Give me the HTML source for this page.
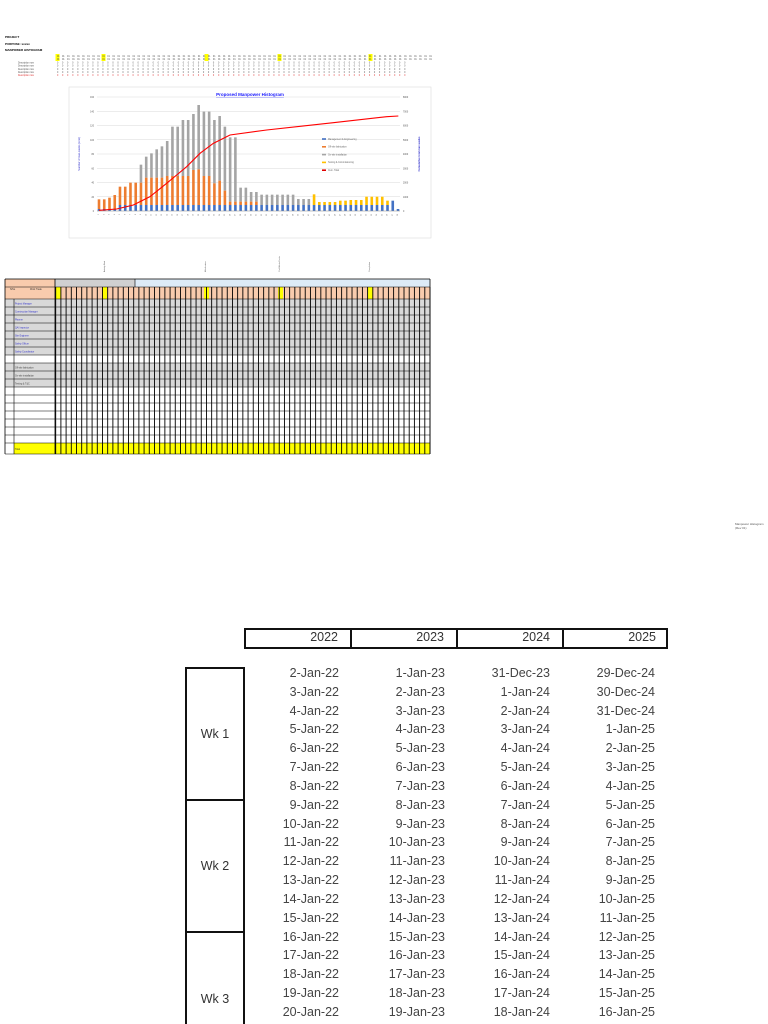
<!DOCTYPE html>
<html><head><meta charset="utf-8"><style>
html,body{margin:0;width:768px;height:1024px;background:#fff;position:relative;overflow:hidden;font-family:"Liberation Sans",sans-serif}
.col{position:absolute;top:664px;line-height:18.83px;font-size:12.5px;color:#444;text-align:right;width:100px}
.yb{position:absolute;top:628px;left:244px;width:424px;height:21px;border:2px solid #111;box-sizing:border-box}
.yt{position:absolute;top:630px;font-size:12.5px;color:#333;width:100px;text-align:right}
.wk{position:absolute;left:185px;width:60px;border:2px solid #111;box-sizing:border-box;font-size:12.5px;color:#333;display:flex;align-items:center;justify-content:center}
</style></head><body>
<svg id="s" width="768" height="470" style="position:absolute;left:0;top:0" xmlns="http://www.w3.org/2000/svg">
<text x="5" y="38" font-size="3" font-weight="bold">PROJECT</text>
<text x="5" y="45" font-size="3" font-weight="bold">PURPOSE: xxxxx</text>
<text x="5" y="51" font-size="3" font-weight="bold">MANPOWER HISTOGRAM</text>
<rect x="69" y="87" width="362" height="151" fill="#fff" stroke="#ddd" stroke-width="0.6"/>
<text x="250" y="96" font-size="4.5" font-weight="bold" fill="#1a1aff" text-anchor="middle" text-decoration="underline">Proposed Manpower Histogram</text>
<g id="g"></g>
</svg>
<div class="yb"></div>
<div style="position:absolute;left:350px;top:628px;width:2px;height:21px;background:#111"></div>
<div style="position:absolute;left:456px;top:628px;width:2px;height:21px;background:#111"></div>
<div style="position:absolute;left:562px;top:628px;width:2px;height:21px;background:#111"></div>
<div class="yt" style="left:238px">2022</div>
<div class="yt" style="left:344px">2023</div>
<div class="yt" style="left:450px">2024</div>
<div class="yt" style="left:556px">2025</div>
<div class="wk" style="top:667px;height:134px">Wk 1</div>
<div class="wk" style="top:799px;height:134px">Wk 2</div>
<div class="wk" style="top:931px;height:134px;padding-top:2px">Wk 3</div>
<div class="col" style="left:239px">2-Jan-22<br>3-Jan-22<br>4-Jan-22<br>5-Jan-22<br>6-Jan-22<br>7-Jan-22<br>8-Jan-22<br>9-Jan-22<br>10-Jan-22<br>11-Jan-22<br>12-Jan-22<br>13-Jan-22<br>14-Jan-22<br>15-Jan-22<br>16-Jan-22<br>17-Jan-22<br>18-Jan-22<br>19-Jan-22<br>20-Jan-22</div>
<div class="col" style="left:345px">1-Jan-23<br>2-Jan-23<br>3-Jan-23<br>4-Jan-23<br>5-Jan-23<br>6-Jan-23<br>7-Jan-23<br>8-Jan-23<br>9-Jan-23<br>10-Jan-23<br>11-Jan-23<br>12-Jan-23<br>13-Jan-23<br>14-Jan-23<br>15-Jan-23<br>16-Jan-23<br>17-Jan-23<br>18-Jan-23<br>19-Jan-23</div>
<div class="col" style="left:450px">31-Dec-23<br>1-Jan-24<br>2-Jan-24<br>3-Jan-24<br>4-Jan-24<br>5-Jan-24<br>6-Jan-24<br>7-Jan-24<br>8-Jan-24<br>9-Jan-24<br>10-Jan-24<br>11-Jan-24<br>12-Jan-24<br>13-Jan-24<br>14-Jan-24<br>15-Jan-24<br>16-Jan-24<br>17-Jan-24<br>18-Jan-24</div>
<div class="col" style="left:555px">29-Dec-24<br>30-Dec-24<br>31-Dec-24<br>1-Jan-25<br>2-Jan-25<br>3-Jan-25<br>4-Jan-25<br>5-Jan-25<br>6-Jan-25<br>7-Jan-25<br>8-Jan-25<br>9-Jan-25<br>10-Jan-25<br>11-Jan-25<br>12-Jan-25<br>13-Jan-25<br>14-Jan-25<br>15-Jan-25<br>16-Jan-25</div>
<div style="position:absolute;left:735px;top:522px;font-size:3px;color:#555">Manpower Histogram (Rev 01)</div>
<script>
var g=document.getElementById('g'),h='';
function R(x,y,w,ht,f,extra){h+='<rect x="'+x+'" y="'+y+'" width="'+w+'" height="'+ht+'" fill="'+f+'" '+(extra||'')+'/>';}
function L(x1,y1,x2,y2,c,w){h+='<line x1="'+x1+'" y1="'+y1+'" x2="'+x2+'" y2="'+y2+'" stroke="'+c+'" stroke-width="'+w+'"/>';}
var ylw=[57,103,206,279,370];
ylw.forEach(function(x){R(x-1.5,54,4,7,'#ffff00');});
for(var r=0;r<7;r++){var y=57+r*3.2;var n=r<2?75:70;
 for(var i=0;i<n;i++)h+='<text x="'+(57+i*5.03)+'" y="'+y+'" font-size="2.3" fill="'+(r==6?'#d33':'#555')+'">'+(r<2?'01':'0')+'</text>';
 if(r>=2)h+='<text x="18" y="'+y+'" font-size="2.3" fill="'+(r==6?'#d33':'#555')+'">Description row</text>';}
var ptop=97,bot=211,lft=97,rgt=400;
for(var i=0;i<=8;i++){var y=bot-i*(bot-ptop)/8;L(lft,y,rgt,y,'#d9d9d9',0.5);
 h+='<text x="'+(lft-3)+'" y="'+(y+1)+'" font-size="2.3" fill="#555" text-anchor="end">'+(i*20)+'</text>';
 h+='<text x="'+(rgt+3)+'" y="'+(y+1)+'" font-size="2.3" fill="#555">'+(i*1000)+'</text>';}
h+='<text transform="translate(80,154) rotate(-90)" font-size="2.6" fill="#3333cc" text-anchor="middle">Number of man-weeks (total)</text>';
h+='<text transform="translate(420,154) rotate(-90)" font-size="2.6" fill="#3333cc" text-anchor="middle" font-weight="bold">Cumulative total man-weeks</text>';
var tot=[508,508,503,495,470,470,458,458,404,380,370,358,349,333,290,290,270,270,252,225,245,245,270,258,290,322,322,473,473,486,486,494,494,494,494,494,494,494,507,507,507,493,516,516,516,516,512,512,510,510,510,500,500,500,500,512,512,537];
var org=[508,508,503,495,470,470,458,458,458,443,443,443,443,438,438,438,438,438,420,418,438,438,460,452,482,515,515,515,515,515,515,525];
var yel=[];for(var i=41;i<57;i++)yel[i]=1;
var n=tot.length,step=(rgt-lft-4)/(n-1);
for(var i=0;i<n;i++){var x=lft+2+i*step-1.3,w=2.6;
 var T=bot-(543-tot[i])/3,B=bot-(i<4?(543-537)/3:(i>=56?(543-tot[i])/3:(543-525)/3));
 var O=i<org.length?bot-(543-org[i])/3:B;
 if(i<org.length){ if(T<O)R(x,T,w,O-T,'#a5a5a5'); R(x,O,w,B-O,'#ed7d31');}
 else{ R(x,T,w,B-T,yel[i]?'#ffc000':'#a5a5a5');}
 R(x,B,w,bot-B,'#4472c4');
 h+='<text transform="translate('+(x+1.5)+','+(bot+3)+') rotate(-90)" font-size="1.8" fill="#666" text-anchor="end">'+(i+1)+'</text>';}
L(lft,bot,rgt,bot,'#999',0.5);
var pts=[[297,541],[350,537],[400,525],[450,500],[500,460],[530,435],[560,410],[600,370],[640,340],[690,315],[800,300],[1000,278],[1160,260],[1195,258]];
h+='<polyline fill="none" stroke="#ff0000" stroke-width="1.1" points="'+pts.map(function(p){return (p[0]/3)+','+(p[1]/3+30)}).join(' ')+'"/>';
var lg=[['#4472c4','Management & Engineering'],['#ed7d31','Off-site fabrication'],['#a5a5a5','On-site installation'],['#ffc000','Testing & Commissioning'],['#e00000','Cum. Total']];
lg.forEach(function(l,i){var y=139+i*7.8;R(322,y-0.8,4,1.6,l[0]);h+='<text x="328" y="'+(y+0.8)+'" font-size="2.3" fill="#666">'+l[1]+'</text>';});
['Activity Start','Mobilisation','Civil Works Finish','Completion'].forEach(function(t,i){var x=[105,206,280,370][i];h+='<text transform="translate('+x+',272) rotate(-90)" font-size="2" fill="#555">'+t+'</text>';});
var ty=279;
R(5,ty,50,20,'#f8cbad');R(55,ty,80,8,'#d0d0d0');R(135,ty,295,8,'#ddebf7');R(55,287,375,12,'#f8cbad');
[56,102,204,278,368].forEach(function(x){R(x,287,5,12,'#ffff00');});
var grey=[1,1,1,1,1,1,1,0,1,1,1,0,0,0,0,0,0,0];
for(var r=0;r<18;r++){var y=299+r*8;R(5,y,425,8,grey[r]?'#d9d9d9':'#fff');}
R(5,443,425,11,'#ffff00');R(5,443,9,11,'#fff');
var names=['Project Manager','Construction Manager','Planner','QA/ Inspector','Site Engineer','Safety Officer','Safety Coordinator','','Off-site fabrication','On-site installation','Testing & T&C'];
names.forEach(function(t,i){if(t)h+='<text x="15" y="'+(304.5+i*8)+'" font-size="2.3" fill="'+(i<7?'#3333cc':'#444')+'">'+t+'</text>';});
h+='<text x="15" y="450" font-size="2.3" fill="#333">Total</text>';
h+='<text x="10" y="290" font-size="2.3" fill="#333">S/No</text><text x="30" y="290" font-size="2.3" fill="#333">Work Trade</text>';
for(var r=0;r<=19;r++){var y=r<19?299+r*8:454;if(r==18)y=443;L(5,y,430,y,'#000',0.6);}
L(5,287,430,287,'#000',0.6);L(5,279,430,279,'#000',0.8);
var cw=(430-55.7)/72;
for(var c=0;c<=72;c++){var x=55.7+c*cw;L(x,287,x,454,'#000',0.9);}
L(5,279,5,454,'#000',0.8);L(14,299,14,454,'#000',0.6);L(55,279,55,454,'#000',0.8);L(430,279,430,454,'#000',0.8);L(135,279,135,287,'#000',0.6);
g.innerHTML=h;
</script>
</body></html>
